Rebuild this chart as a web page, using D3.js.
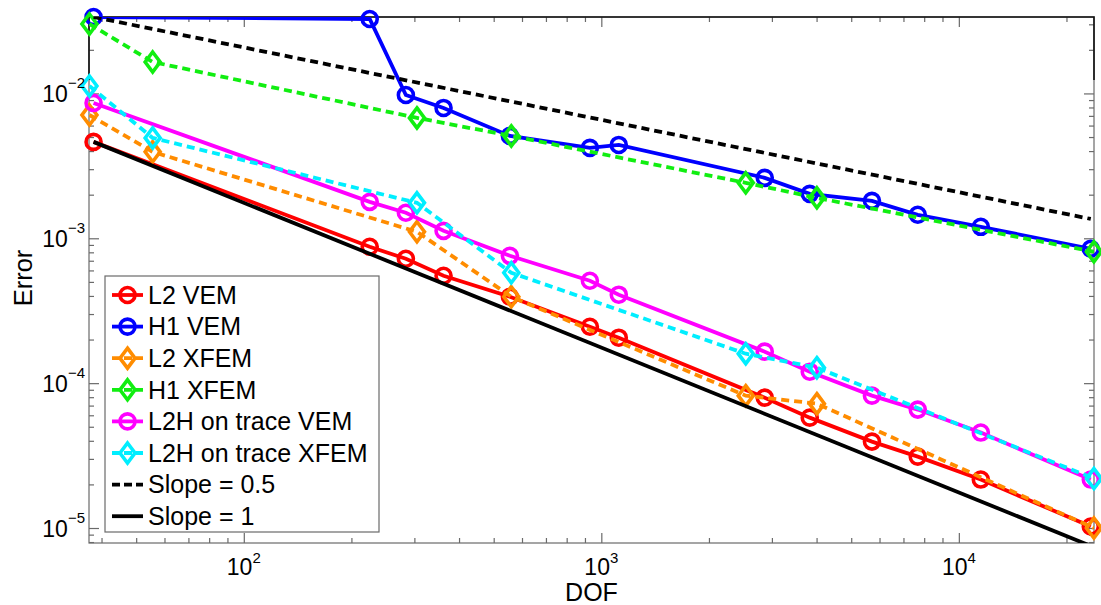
<!DOCTYPE html>
<html>
<head>
<meta charset="utf-8">
<script src="https://cdn.jsdelivr.net/npm/d3@7"></script>
<style>
  body { margin: 0; background: #fff; }
  svg { font-family: "Liberation Sans", Arial, sans-serif; }
</style>
</head>
<body>
<svg id="chart"></svg>
<script>
// DOF values
const dofVEM = [38, 225, 284, 362, 555, 929, 1119, 2865, 3828, 5714, 7675, 11520, 23390];
const dofXFEM = [37, 55.6, 305, 560, 2535, 4008, 23870];

// error values
const l2VEM = [0.00463, 0.000874, 0.000722, 0.000551, 0.000395, 0.000245, 0.000206, 7.94e-5, 5.78e-5, 3.95e-5, 3.11e-5, 2.16e-5, 1.024e-5];
const h1VEM = [0.03371, 0.03264, 0.00976, 0.00794, 0.00509, 0.00421, 0.00441, 0.002614, 0.002027, 0.001814, 0.001453, 0.0012, 0.000847];
const l2XFEM = [0.0071, 0.00395, 0.001109, 0.000395, 8.2e-5, 7.22e-5, 1.0e-5];
const h1XFEM = [0.03015, 0.01649, 0.00678, 0.00509, 0.002415, 0.001902, 0.000807];
const l2hVEM = [0.0086, 0.001785, 0.0015, 0.001126, 0.000757, 0.000509, 0.000408, 0.000165, 0.00012, 8.2e-5, 6.57e-5, 4.56e-5, 2.16e-5];
const l2hXFEM = [0.01126, 0.00493, 0.001757, 0.000578, 0.0001597, 0.0001279, 2.195e-5];

// reference slope lines (end points)
const slopeX = [38, 23390];
const slopeHalfY = [0.0337, 0.00136];
const slopeOneY = [0.00463, 7.52e-6];

const xMajor = [100, 1000, 10000];
const yMajor = [1e-5, 1e-4, 1e-3, 1e-2];
const xLabels = ["2", "3", "4"];
const yLabels = ["\u22125", "\u22124", "\u22123", "\u22122"];

const seriesNames = ["L2 VEM", "H1 VEM", "L2 XFEM", "H1 XFEM", "L2H on trace VEM", "L2H on trace XFEM", "Slope = 0.5", "Slope = 1"];

const config = {
  width: 1101, height: 605,
  margin: {top: 17, right: 7, bottom: 62, left: 89}
};

const series = [
  {name: seriesNames[0], x: dofVEM, y: l2VEM, color: "#ff0000", dash: null, marker: "circle"},
  {name: seriesNames[1], x: dofVEM, y: h1VEM, color: "#0000ff", dash: null, marker: "circle"},
  {name: seriesNames[2], x: dofXFEM, y: l2XFEM, color: "#ff8c00", dash: "8,5", marker: "diamond"},
  {name: seriesNames[3], x: dofXFEM, y: h1XFEM, color: "#11ee11", dash: "8,5", marker: "diamond"},
  {name: seriesNames[4], x: dofVEM, y: l2hVEM, color: "#ff00ff", dash: null, marker: "circle"},
  {name: seriesNames[5], x: dofXFEM, y: l2hXFEM, color: "#00eeff", dash: "8,5", marker: "diamond"},
  {name: seriesNames[6], x: slopeX, y: slopeHalfY, color: "#000", dash: "8,5", marker: null},
  {name: seriesNames[7], x: slopeX, y: slopeOneY, color: "#000", dash: null, marker: null}
];

const svg = d3.select("#chart")
    .attr("width", config.width)
    .attr("height", config.height);

const innerW = config.width - config.margin.left - config.margin.right;
const innerH = config.height - config.margin.top - config.margin.bottom;

const chart = svg.append("g")
    .attr("transform", `translate(${config.margin.left},${config.margin.top})`);

const xScale = d3.scaleLog().domain([36.9, 23880]).range([0, innerW]);
const yScale = d3.scaleLog().domain([7.88e-6, 0.0337]).range([innerH, 0]);

// minor ticks 2..9 in each decade
const xMinor = [];
for (let d = 10; d <= 10000; d *= 10) for (let k = 2; k <= 9; k++) {
  const v = d * k;
  if (v > 36.9 && v < 23880) xMinor.push(v);
}
const yMinor = [];
for (let d = 1e-6; d <= 1e-2; d *= 10) for (let k = 2; k <= 9; k++) {
  const v = d * k;
  if (v > 7.88e-6 && v < 0.0337) yMinor.push(v);
}

// white background + box
chart.append("rect")
    .attr("width", innerW).attr("height", innerH)
    .attr("fill", "#fff").attr("stroke", "#6a6a6a").attr("stroke-width", 1.2);

function addAxis(axisFn, scale, vals, size, transform) {
  const g = chart.append("g")
      .attr("transform", transform)
      .call(axisFn(scale).tickValues(vals).tickSize(-size).tickFormat(""));
  g.select(".domain").remove();
  g.selectAll(".tick line").attr("stroke", "#6a6a6a").attr("stroke-width", 1.2);
  return g;
}
addAxis(d3.axisBottom, xScale, xMajor, 10, `translate(0,${innerH})`);
addAxis(d3.axisBottom, xScale, xMinor, 5, `translate(0,${innerH})`);
addAxis(d3.axisTop, xScale, xMajor, 10, "translate(0,0)");
addAxis(d3.axisTop, xScale, xMinor, 5, "translate(0,0)");
addAxis(d3.axisLeft, yScale, yMajor, 10, "translate(0,0)");
addAxis(d3.axisLeft, yScale, yMinor, 5, "translate(0,0)");
addAxis(d3.axisRight, yScale, yMajor, 10, `translate(${innerW},0)`);
addAxis(d3.axisRight, yScale, yMinor, 5, `translate(${innerW},0)`);

// darker top portion of frame, as in the picture
chart.append("path")
    .attr("d", `M0,63V0H${innerW}V63`)
    .attr("fill", "none").attr("stroke", "#111").attr("stroke-width", 1.6);

// tick labels
xMajor.forEach((v, i) => {
  const t = svg.append("text")
      .attr("x", config.margin.left + xScale(v))
      .attr("y", config.margin.top + innerH + 32)
      .attr("text-anchor", "middle")
      .style("font-size", "23px");
  t.append("tspan").text("10");
  t.append("tspan").attr("dy", -12).style("font-size", "15px").text(xLabels[i]);
});
yMajor.forEach((v, i) => {
  const t = svg.append("text")
      .attr("x", config.margin.left - 4)
      .attr("y", config.margin.top + yScale(v) + 9)
      .attr("text-anchor", "end")
      .style("font-size", "23px");
  t.append("tspan").text("10");
  t.append("tspan").attr("dy", -14).style("font-size", "15px").text(yLabels[i]);
});

// axis titles
svg.append("text")
    .attr("x", config.margin.left + innerW / 2)
    .attr("y", 601)
    .attr("text-anchor", "middle")
    .style("font-size", "25px")
    .text("DOF");
svg.append("text")
    .attr("transform", "translate(32,278) rotate(-90)")
    .attr("text-anchor", "middle")
    .style("font-size", "25.5px")
    .text("Error");

// clip for the lines
svg.append("defs").append("clipPath").attr("id", "clip")
    .append("rect").attr("width", innerW).attr("height", innerH);

const line = d3.line().x(d => xScale(d[0])).y(d => yScale(d[1]));

function drawMarker(g, type, cx, cy, color) {
  if (type === "circle") {
    g.append("circle").attr("cx", cx).attr("cy", cy).attr("r", 7.5)
        .attr("fill", "none").attr("stroke", color).attr("stroke-width", 3.6);
  } else if (type === "diamond") {
    g.append("path")
        .attr("d", `M${cx},${cy - 10}L${cx + 7.5},${cy}L${cx},${cy + 10}L${cx - 7.5},${cy}Z`)
        .attr("fill", "none").attr("stroke", color).attr("stroke-width", 3.6)
        .attr("stroke-linejoin", "miter");
  }
}

series.forEach(s => {
  const pts = s.x.map((x, i) => [x, s.y[i]]);
  const g = chart.append("g");
  g.append("path")
      .datum(pts)
      .attr("clip-path", "url(#clip)")
      .attr("d", line)
      .attr("fill", "none")
      .attr("stroke", s.color)
      .attr("stroke-width", 3.8)
      .attr("stroke-dasharray", s.dash);
  if (s.marker) pts.forEach(p => drawMarker(g, s.marker, xScale(p[0]), yScale(p[1]), s.color));
});

// legend
const legend = svg.append("g").attr("transform", "translate(105,276)");
legend.append("rect")
    .attr("width", 274).attr("height", 256)
    .attr("fill", "#fff").attr("stroke", "#6a6a6a").attr("stroke-width", 1.2);
series.forEach((s, i) => {
  const y = 19 + i * 31.6;
  legend.append("line")
      .attr("x1", 7).attr("x2", 38).attr("y1", y).attr("y2", y)
      .attr("stroke", s.color).attr("stroke-width", 3.8)
      .attr("stroke-dasharray", s.dash ? "8,4" : null);
  if (s.marker) drawMarker(legend, s.marker, 22.5, y, s.color);
  legend.append("text")
      .attr("x", 43).attr("y", y)
      .attr("dy", "0.35em")
      .style("font-size", "25px")
      .text(s.name);
});
</script>
</body>
</html>
